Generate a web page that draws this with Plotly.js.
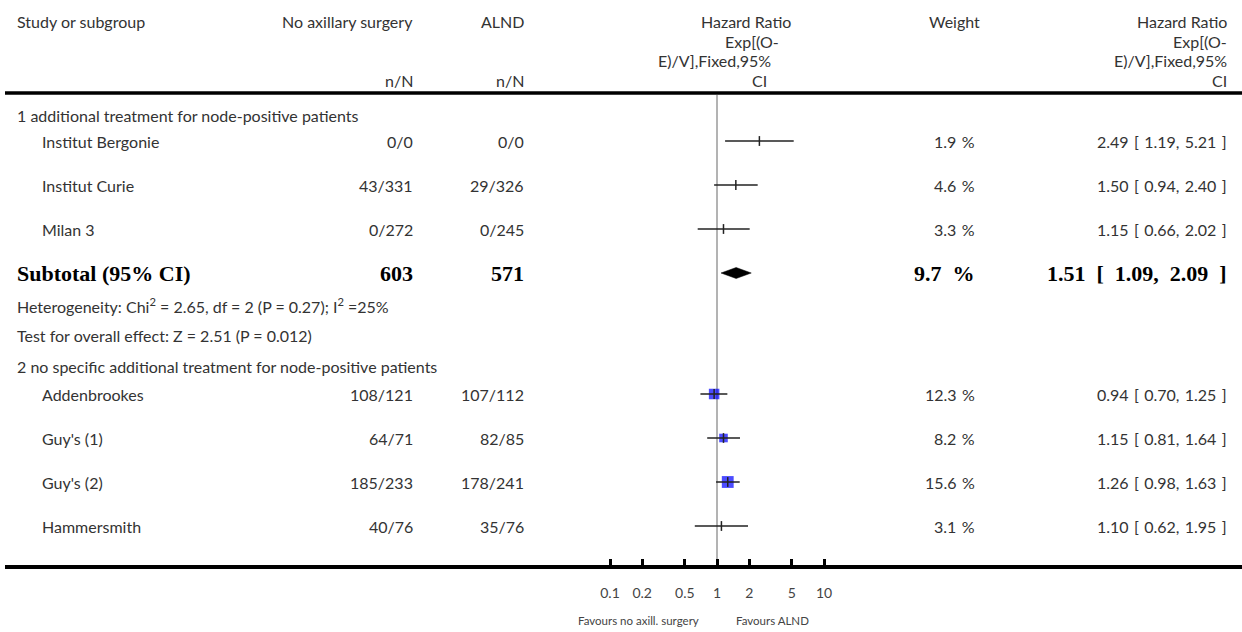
<!DOCTYPE html>
<html>
<head>
<meta charset="utf-8">
<script src="https://cdn.plot.ly/plotly-3.0.1.min.js"></script>
<style>
  html, body { margin: 0; padding: 0; background: #fff; }
  #chart { width: 1242px; height: 632px; }
</style>
</head>
<body>
<div id="chart"></div>
<script>
// ---- Subgroup 1: additional treatment for node-positive patients ----
const group1Title = "1 additional treatment for node-positive patients";
const group1Studies = ["Institut Bergonie", "Institut Curie", "Milan 3"];
const group1NoAx = ["0/0", "43/331", "0/272"];
const group1Alnd = ["0/0", "29/326", "0/245"];
const group1HR = [2.49, 1.50, 1.15];
const group1Lo = [1.19, 0.94, 0.66];
const group1Hi = [5.21, 2.40, 2.02];
const group1Weight = [1.9, 4.6, 3.3];

// Subtotal of subgroup 1
const subtotalLabel = "Subtotal (95% CI)";
const subtotalCounts = [603, 571];
const subtotalWeight = 9.7;
const subtotalHR = 1.51;
const subtotalLo = 1.09;
const subtotalHi = 2.09;
const heterogeneityText = "Heterogeneity: Chi<sup>2</sup> = 2.65, df = 2 (P = 0.27); I<sup>2</sup> =25%";
const overallEffectText = "Test for overall effect: Z = 2.51 (P = 0.012)";

// ---- Subgroup 2: no specific additional treatment ----
const group2Title = "2 no specific additional treatment for node-positive patients";
const group2Studies = ["Addenbrookes", "Guy's (1)", "Guy's (2)", "Hammersmith"];
const group2NoAx = ["108/121", "64/71", "185/233", "40/76"];
const group2Alnd = ["107/112", "82/85", "178/241", "35/76"];
const group2HR = [0.94, 1.15, 1.26, 1.10];
const group2Lo = [0.70, 0.81, 0.98, 0.62];
const group2Hi = [1.25, 1.64, 1.63, 1.95];
const group2Weight = [12.3, 8.2, 15.6, 3.1];

// Axis ticks and footer labels
const tickValues = [0.1, 0.2, 0.5, 1, 2, 5, 10];
const tickLabels = ["0.1", "0.2", "0.5", "1", "2", "5", "10"];
const favoursLeft = "Favours no axill. surgery";
const favoursRight = "Favours ALND";

// ---- Layout geometry (pixels) ----
const W = 1242, H = 632;
const ML = 5, AXIS_Y = 565;
const PX_PER_DECADE = 107, X_AT_01 = 610;
const HEADER_Y = 93;
const ROWS = {
  g1Head: 115, g1: [141, 185, 229], sub: 273, het: 305, test: 335,
  g2Head: 366, g2: [394, 438, 482, 526]
};
const COL = { label: 15, study: 40, noAx: 415, alnd: 526, weight: 977, hr: 1229 };

const plotW = W - ML;
const logStart = -1 - (X_AT_01 - ML) / PX_PER_DECADE;
const logEnd = logStart + plotW / PX_PER_DECADE;
const px = v => (v - ML) / plotW;

const FONT = "Lato, 'Open Sans', sans-serif";
const SERIF = "'Liberation Serif', 'DejaVu Serif', serif";
const TXT = "#333";
const SQUARE_MIN_WEIGHT = 5;

const annotations = [];
function note(text, x, y, anchor, font, yref) {
  const onPaper = yref === "paper";
  annotations.push({
    text: text, xref: "paper", yref: onPaper ? "paper" : "y",
    x: px(x), y: onPaper ? (AXIS_Y - y) / AXIS_Y : y,
    xanchor: anchor, yanchor: "middle", showarrow: false,
    font: Object.assign({ family: FONT, size: 16, color: TXT }, font || {})
  });
}

// Column headers
note("Study or subgroup", COL.label, 21, "left");
note("No axillary surgery", COL.noAx, 21, "right");
note("ALND", COL.alnd, 21, "right");
note("n/N", COL.noAx, 80, "right");
note("n/N", COL.alnd, 80, "right");
note("Hazard Ratio", 793, 21, "right");
note("Exp[(O-", 781, 41, "right");
note("E)/V],Fixed,95%", 773, 60, "right");
note("CI", 769, 80, "right");
note("Weight", 955, 21, "center");
["Hazard Ratio", "Exp[(O-", "E)/V],Fixed,95%", "CI"].forEach((t, i) =>
  note(t, COL.hr, [21, 41, 60, 80][i], "right"));

// CI text; sp is the spacing character used between the parts
const fmtCI = (h, l, u, sp) =>
  h.toFixed(2) + sp + "[" + sp + l.toFixed(2) + "," + sp + u.toFixed(2) + sp + "]";

function studyRows(names, noAx, alnd, hr, lo, hi, wt, ys) {
  names.forEach((n, i) => {
    note(n, COL.study, ys[i], "left");
    note(noAx[i], COL.noAx, ys[i], "right");
    note(alnd[i], COL.alnd, ys[i], "right");
    note(wt[i].toFixed(1) + "\u2004%", COL.weight, ys[i], "right");
    note(fmtCI(hr[i], lo[i], hi[i], "\u2004"), COL.hr, ys[i], "right");
  });
}

note(group1Title, COL.label, ROWS.g1Head, "left");
studyRows(group1Studies, group1NoAx, group1Alnd, group1HR, group1Lo, group1Hi, group1Weight, ROWS.g1);

const bold = { family: SERIF, size: 22, color: "#000" };
note("<b>" + subtotalLabel + "</b>", COL.label, ROWS.sub, "left", bold);
note("<b>" + subtotalCounts[0] + "</b>", COL.noAx, ROWS.sub, "right", bold);
note("<b>" + subtotalCounts[1] + "</b>", COL.alnd, ROWS.sub, "right", bold);
note("<b>" + subtotalWeight.toFixed(1) + "\u2002%</b>", COL.weight, ROWS.sub, "right", bold);
note("<b>" + fmtCI(subtotalHR, subtotalLo, subtotalHi, "\u2002") + "</b>", COL.hr, ROWS.sub, "right", bold);
note(heterogeneityText, COL.label, ROWS.het, "left");
note(overallEffectText, COL.label, ROWS.test, "left");

note(group2Title, COL.label, ROWS.g2Head, "left");
studyRows(group2Studies, group2NoAx, group2Alnd, group2HR, group2Lo, group2Hi, group2Weight, ROWS.g2);

note(favoursLeft, 701, 621, "right", { size: 11.5, color: "#444" }, "paper");
note(favoursRight, 734, 621, "left", { size: 11.5, color: "#444" }, "paper");

// ---- Traces ----
const allHR = group1HR.concat(group2HR);
const allLo = group1Lo.concat(group2Lo);
const allHi = group1Hi.concat(group2Hi);
const allW = group1Weight.concat(group2Weight);
const allY = ROWS.g1.concat(ROWS.g2);

const traces = [];

// line of no effect
traces.push({
  x: [1, 1], y: [HEADER_Y + 2, AXIS_Y], mode: "lines",
  line: { color: "#9a9a9a", width: 1.5 }, hoverinfo: "skip", showlegend: false
});

// weight squares (larger studies only)
const sq = allHR.map((v, i) => i).filter(i => allW[i] >= SQUARE_MIN_WEIGHT);
traces.push({
  x: sq.map(i => allHR[i]), y: sq.map(i => allY[i]), mode: "markers",
  marker: { symbol: "square", color: "#0000ff", size: sq.map(i => 3 * Math.sqrt(allW[i])), line: { width: 0 } },
  hoverinfo: "skip", showlegend: false
});

// confidence intervals
const ciX = [], ciY = [];
allHR.forEach((v, i) => { ciX.push(allLo[i], allHi[i], null); ciY.push(allY[i], allY[i], null); });
traces.push({
  x: ciX, y: ciY, mode: "lines", line: { color: "#222", width: 1.5 },
  hoverinfo: "skip", showlegend: false
});

// point estimate ticks
traces.push({
  x: allHR, y: allY, mode: "markers",
  marker: { symbol: "line-ns-open", size: 7, color: "#222", line: { color: "#222", width: 1.5 } },
  hoverinfo: "skip", showlegend: false
});

// subtotal diamond
const dh = 5.5;
traces.push({
  x: [subtotalLo, subtotalHR, subtotalHi, subtotalHR, subtotalLo],
  y: [ROWS.sub, ROWS.sub - dh, ROWS.sub, ROWS.sub + dh, ROWS.sub],
  mode: "lines", fill: "toself", fillcolor: "#000",
  line: { color: "#000", width: 0.5 }, hoverinfo: "skip", showlegend: false
});

const layout = {
  width: W, height: H,
  margin: { l: ML, r: 0, t: 0, b: H - AXIS_Y, pad: 0 },
  paper_bgcolor: "#fff", plot_bgcolor: "#fff",
  showlegend: false,
  xaxis: {
    type: "log", range: [logStart, logEnd], domain: [0, 1],
    tickvals: tickValues, ticktext: tickLabels,
    ticks: "inside", ticklen: 6, tickwidth: 3, tickcolor: "#000",
    showline: true, linewidth: 3.5, linecolor: "#000",
    showgrid: false, zeroline: false, ticklabelstandoff: 13,
    tickfont: { family: FONT, size: 14, color: "#444" }, fixedrange: true
  },
  yaxis: {
    range: [AXIS_Y, 0], visible: false, showgrid: false, zeroline: false, fixedrange: true
  },
  shapes: [{
    type: "line", xref: "paper", yref: "y", x0: 0, x1: 1, y0: HEADER_Y, y1: HEADER_Y,
    line: { color: "#000", width: 3.5 }
  }],
  annotations: annotations
};

Plotly.newPlot("chart", traces, layout, { displayModeBar: false, staticPlot: true });
</script>
</body>
</html>
